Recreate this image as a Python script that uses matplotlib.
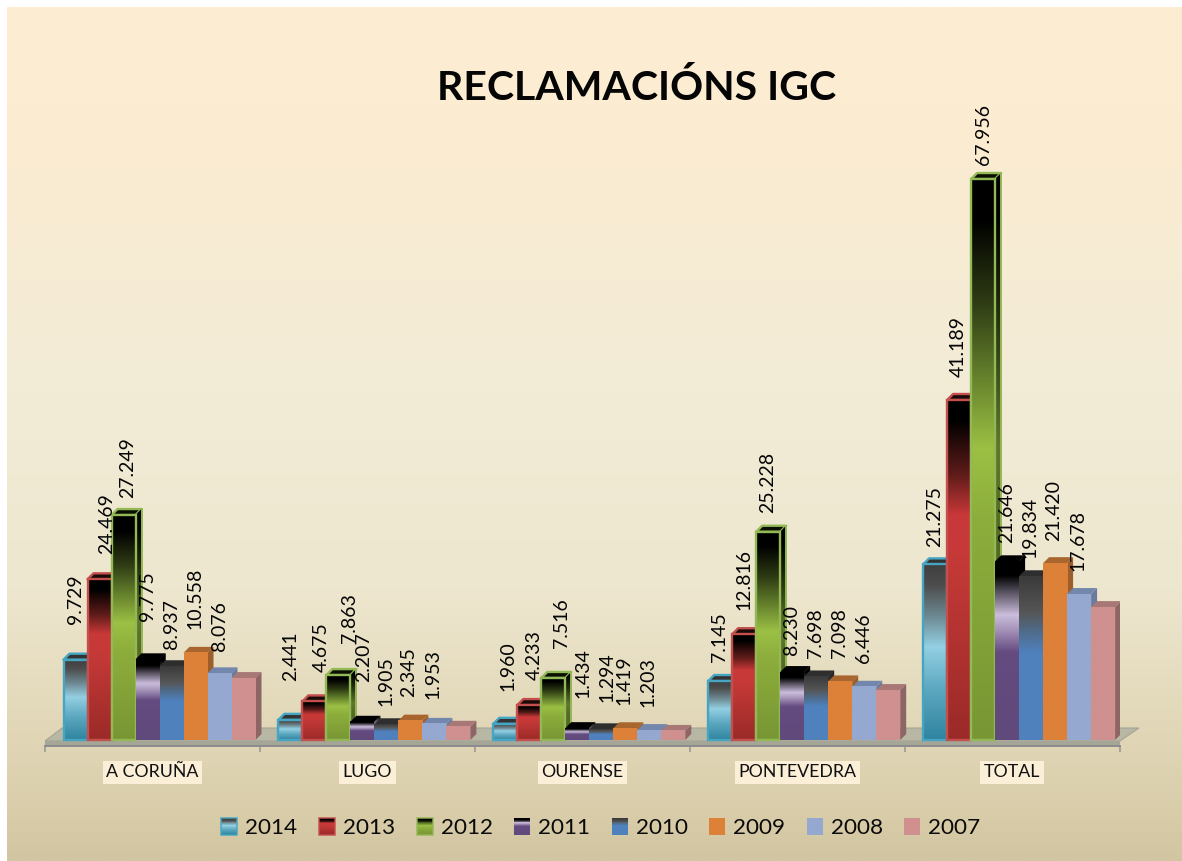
import numpy as np
import matplotlib
matplotlib.use("Agg")
import matplotlib.pyplot as plt
from matplotlib.colors import to_rgb
from matplotlib.legend_handler import HandlerBase
from matplotlib.patches import Patch, Polygon, Rectangle

# ---------- data ----------
categories = ["A CORUÑA", "LUGO", "OURENSE", "PONTEVEDRA", "TOTAL"]
years = ["2014", "2013", "2012", "2011", "2010", "2009", "2008", "2007"]
v2014 = [9729, 2441, 1960, 7145, 21275]
v2013 = [19465, 4675, 4233, 12816, 41189]   # first bar is drawn at ~19.5k, though labelled 24.469
v2012 = [27249, 7863, 7516, 25228, 67956]
v2011 = [9775, 2207, 1434, 8230, 21646]
v2010 = [8937, 1905, 1294, 7698, 19834]
v2009 = [10558, 2345, 1419, 7098, 21420]
v2008 = [8076, 1953, 1203, 6446, 17678]
v2007 = [7500, 1600, 1100, 6050, 16100]   # unlabelled in the source
series = [v2014, v2013, v2012, v2011, v2010, v2009, v2008, v2007]
labels_a_coruna = ["9.729", "24.469", "27.249", "9.775", "8.937", "10.558", "8.076"]
labels_lugo = ["2.441", "4.675", "7.863", "2.207", "1.905", "2.345", "1.953"]
labels_ourense = ["1.960", "4.233", "7.516", "1.434", "1.294", "1.419", "1.203"]
labels_pontevedra = ["7.145", "12.816", "25.228", "8.230", "7.698", "7.098", "6.446"]
labels_total = ["21.275", "41.189", "67.956", "21.646", "19.834", "21.420", "17.678"]
bar_labels = [labels_a_coruna, labels_lugo, labels_ourense, labels_pontevedra, labels_total]
title_text = "RECLAMACIÓNS IGC"

# ---------- layout (pixels of the reference) ----------
W, H = 1182, 861
X0_PX, X5_PX = 45.0, 1119.5
Y0_PX, AX_BOTTOM_PX, AX_TOP_PX = 740.0, 746.0, 8.0
PX_PER_UNIT = 0.008255
BAR_START_PX, BAR_W_PX, DEPTH_PX = 18.5, 24.0, 6.0

# label placement for the 7 labelled series, per category (manual in the source)
label_x_px = [[76, 107, 128, 147, 171, 195, 219],
              [291, 321, 349, 364, 386, 409, 433],
              [508, 534, 562, 583, 607, 624, 648],
              [720, 744, 768, 792, 815, 839, 863],
              [935, 958, 983, 1007, 1030, 1054, 1078]]
label_bottom_px = [[624, 554, 498, 621, 649, 629, 651],
                   [681, 672, 643, 682, 706, 697, 699],
                   [691, 680, 648, 698, 702, 705, 707],
                   [662, 610, 513, 655, 658, 658, 663],
                   [547, 377, 165, 543, 558, 541, 571]]

# ---------- styles ----------
styles = [
    dict(stops=[(0, "#3F3F3F"), (.12, "#4D4D4D"), (.3, "#6E8A94"), (.47, "#93D0E3"), (.7, "#5FA9C2"), (1, "#2F849F")],
         edge="#45A5C2", top="#333333", side="#2F6F85"),
    dict(stops=[(0, "#000000"), (.06, "#000000"), (.22, "#5E1C1A"), (.34, "#C93838"), (.45, "#C63A38"), (1, "#9A2A28")],
         edge="#C4504D", top="#1A0A0A", side="#6E2020"),
    dict(stops=[(0, "#000000"), (.07, "#000000"), (.22, "#2F3C14"), (.35, "#64802C"), (.48, "#9CC044"), (.6, "#8DAE3C"), (1, "#789634")],
         edge="#93B856", top="#0A0F02", side="#55702A"),
    dict(stops=[(0, "#000000"), (.08, "#000000"), (.17, "#56505E"), (.3, "#CBBDDC"), (.38, "#A795BB"), (.51, "#644B80"), (1, "#60497B")],
         edge=None, top="#000000", side="#000000"),
    dict(stops=[(0, "#3A3A3A"), (.22, "#565656"), (.33, "#4F6A87"), (.47, "#4F81BD"), (1, "#4F81BD")],
         edge=None, top="#2E2E2E", side="#2E2E2E"),
    dict(stops=[(0, "#DD8139"), (1, "#DD8139")], edge=None, top="#A8652D", side="#9C5E2A"),
    dict(stops=[(0, "#95A8D0"), (1, "#95A8D0")], edge=None, top="#7386AC", side="#6A7C9E"),
    dict(stops=[(0, "#D09090"), (1, "#D09090")], edge=None, top="#A87877", side="#8D6565"),
]


def gradient(stops, n=256, scale=1.0):
    f = np.linspace(0, 1, n)
    pos = [s[0] for s in stops]
    rgb = np.array([to_rgb(s[1]) for s in stops])
    out = np.stack([np.interp(f, pos, rgb[:, c]) for c in range(3)], axis=1) * scale
    return out[:, None, :]


plt.rcParams["font.family"] = ["Lato", "DejaVu Sans"]
fig = plt.figure(figsize=(W / 100, H / 100), dpi=100, facecolor="white")

# page background
bg = fig.add_axes([7 / W, 0, (W - 7) / W, (H - 7) / H], zorder=0)
bg_stops = [(0, "#FDEDD2"), (.12, "#FCECD1"), (.45, "#F2EBD6"), (.68, "#EEE7CF"), (.9, "#DDD2B0"), (1, "#D2C5A1")]
bg.imshow(gradient(bg_stops, 512), aspect="auto", extent=(0, 1, 0, 1))
bg.axis("off")

# chart axes: pixel layout defines the limits, marks go through data coords
ax = fig.add_axes([X0_PX / W, 1 - AX_BOTTOM_PX / H, (X5_PX - X0_PX) / W, (AX_BOTTOM_PX - AX_TOP_PX) / H], zorder=1)
ax.patch.set_alpha(0)
cat_w = (X5_PX - X0_PX) / 5
xlim = (0, 5)
ylim = (-(AX_BOTTOM_PX - Y0_PX) / PX_PER_UNIT, (Y0_PX - AX_TOP_PX) / PX_PER_UNIT)
px2x = lambda p: (p - X0_PX) / cat_w
py2y = lambda p: (Y0_PX - p) / PX_PER_UNIT

bw = BAR_W_PX / cat_w
dx = DEPTH_PX / cat_w
dy = DEPTH_PX / PX_PER_UNIT
start = BAR_START_PX / cat_w

# floor of the 3-D plot
floor_back = [(px2x(45), py2y(741)), (px2x(62), py2y(728)), (px2x(1139), py2y(728)), (px2x(1120), py2y(741))]
ax.add_patch(Polygon(floor_back, closed=True, fc="#B7B7A4", ec="#A5A596", lw=0.8, zorder=2, clip_on=False))
ax.add_patch(Polygon([(px2x(45), py2y(741)), (px2x(1120), py2y(741)), (px2x(1120), py2y(746)), (px2x(45), py2y(746))],
                     closed=True, fc="#A5A598", ec="none", zorder=2, clip_on=False))

for s, (vals, st) in enumerate(zip(series, styles)):
    z = 3 + s
    x = np.arange(len(categories)) + start + s * bw
    edge = st["edge"]
    lw = 1.7 if edge else 0
    grad = gradient(st["stops"])
    side_grad = gradient(st["stops"], scale=0.62)
    for xi, v in zip(x, vals):
        top = Polygon([(xi, v), (xi + dx, v + dy), (xi + bw + dx, v + dy), (xi + bw, v)], closed=True,
                      fc=st["top"], ec=edge or st["top"], lw=lw, zorder=z, joinstyle="round")
        ax.add_patch(top)
        side = Polygon([(xi + bw, 0), (xi + bw + dx, dy), (xi + bw + dx, v + dy), (xi + bw, v)], closed=True,
                       fc=st["side"], ec="none", zorder=z)
        ax.add_patch(side)
        if len(set(c for _, c in st["stops"])) > 1:
            im_side = ax.imshow(side_grad, aspect="auto", extent=(xi + bw, xi + bw + dx, 0, v + dy), zorder=z)
            im_side.set_clip_path(side)
        if edge:
            ax.plot([xi + bw + dx, xi + bw + dx], [dy, v + dy], color=edge, lw=1.4, zorder=z)
    # the front faces
    bars = ax.bar(x, vals, width=bw, align="edge", color=st["stops"][0][1], edgecolor="none", zorder=z)
    for b in bars:
        ax.imshow(grad, aspect="auto", extent=(b.get_x(), b.get_x() + bw, 0, b.get_height()), zorder=z)
        if edge:
            ax.add_patch(Rectangle((b.get_x(), 0), bw, b.get_height(), fc="none", ec=edge, lw=lw, zorder=z))

# data labels; the 2007 series has none in the source
for c, row in enumerate(bar_labels):
    for s, txt in enumerate(row):
        ax.text(px2x(label_x_px[c][s]), py2y(label_bottom_px[c][s]), txt, rotation=90, ha="center", va="bottom",
                fontsize=14, color="#050505", zorder=20, clip_on=False)

ax.set_xlim(*xlim)
ax.set_ylim(*ylim)
for name in ("left", "right", "top"):
    ax.spines[name].set_visible(False)
ax.spines["bottom"].set_color("#8C8C8C")
ax.spines["bottom"].set_linewidth(1.4)
ax.set_yticks([])
ax.set_xticks(np.arange(5) + 0.5)
ax.set_xticklabels(categories, fontsize=12.8, color="#111111",
                   bbox=dict(boxstyle="square,pad=0.2", fc="#FBEFD7", ec="none"))
ax.set_xticks(np.arange(6), minor=True)
ax.tick_params(axis="x", which="major", length=0, pad=13)
ax.tick_params(axis="x", which="minor", length=4.5, width=1.2, color="#9A9A9A")

ax.set_title(title_text, x=(637 - X0_PX) / (X5_PX - X0_PX), y=1 - (100 - AX_TOP_PX) / (AX_BOTTOM_PX - AX_TOP_PX),
             fontsize=29.5, fontweight="bold", color="#050505", pad=0, va="baseline")


# legend with gradient swatches
class GradHandler(HandlerBase):
    def create_artists(self, legend, orig, xd, yd, width, height, fontsize, trans):
        st = orig.style
        g = gradient(st["stops"], n=18)[:, 0, :]
        arts = []
        for i, col in enumerate(g):
            arts.append(Rectangle((-xd, -yd + height * (1 - (i + 1) / 18)), width, height / 18 * 1.05,
                                  fc=col, ec="none", transform=trans))
        if st["edge"]:
            arts.append(Rectangle((-xd, -yd), width, height, fc="none", ec=st["edge"], lw=1.2, alpha=.85, transform=trans))
        return arts


handles = []
for y, st in zip(years, styles):
    h = Patch(label=y)
    h.style = st
    handles.append(h)
fs = 16.2
fs_px = fs * 100 / 72
ax.legend(handles=handles, ncol=8, frameon=False, fontsize=fs, handler_map={Patch: GradHandler()},
          loc="center", bbox_to_anchor=(601 / W, 1 - 828 / H), bbox_transform=fig.transFigure,
          handlelength=16 / fs_px, handleheight=17 / fs_px, handletextpad=8 / fs_px, columnspacing=21.5 / fs_px,
          borderpad=0, borderaxespad=0, labelcolor="#0A0A0A")

fig.savefig("out.png", dpi=100, facecolor="white")
